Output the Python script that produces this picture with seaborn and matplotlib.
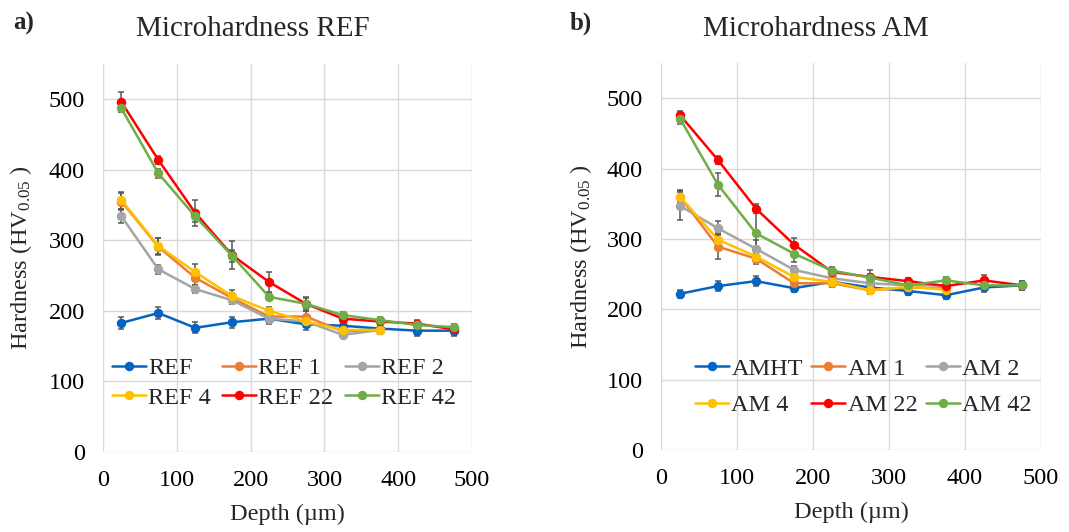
import numpy as np
import pandas as pd
import seaborn as sns
import matplotlib
matplotlib.use("Agg")
import matplotlib.pyplot as plt
from matplotlib.lines import Line2D

depth = [25, 75, 125, 175, 225, 275, 325, 375, 425, 475]

ref_names = ["REF", "REF 1", "REF 2", "REF 4", "REF 22", "REF 42"]
ref_vals = [
    [183, 197, 176, 184, 189, 181, 179, 175, 172, 172],
    [355, 291, 247, 218, 192, 192, 171, 173],
    [334, 259, 231, 215, 189, 185, 166, 173],
    [357, 292, 255, 221, 200, 185, 173, 173],
    [496, 414, 339, 279, 241, 210, 189, 185, 182, 174],
    [487, 395, 334, 278, 220, 210, 194, 187, 180, 177],
]
ref_err = [
    [8, 8, 8, 8, 7, 8, 6, 5, 8, 8],
    [12, 12, 10, 8, 6, 8, 6, 6],
    [10, 6, 6, 5, 6, 6, 5, 5],
    [12, 12, 12, 8, 6, 6, 5, 5],
    [14, 6, 18, 20, 14, 10, 6, 5, 5, 5],
    [5, 6, 8, 8, 5, 8, 5, 5, 5, 5],
]

am_names = ["AMHT", "AM 1", "AM 2", "AM 4", "AM 22", "AM 42"]
am_vals = [
    [222, 233, 240, 230, 239, 231, 226, 220, 231, 234],
    [360, 289, 272, 237, 237, 227, 231, 230],
    [347, 315, 286, 256, 244, 237, 234, 234],
    [360, 299, 275, 246, 239, 227, 232, 228],
    [476, 412, 343, 292, 253, 246, 240, 233, 241, 234],
    [471, 377, 308, 279, 255, 245, 234, 241, 234, 234],
]
am_err = [
    [6, 7, 7, 5, 5, 5, 6, 6, 6, 6],
    [8, 18, 8, 6, 5, 5, 5, 5],
    [20, 10, 12, 6, 5, 5, 5, 5],
    [10, 10, 8, 6, 5, 5, 5, 5],
    [6, 6, 6, 10, 5, 10, 5, 5, 7, 6],
    [8, 16, 30, 12, 5, 5, 5, 5, 5, 5],
]

colors = ["#0563C1", "#ED7D31", "#A5A5A5", "#FFC000", "#FF0000", "#70AD47"]

sns.set_style("white")
plt.rcParams["font.family"] = ["Liberation Serif", "DejaVu Serif"]
plt.rcParams["mathtext.fontset"] = "custom"
plt.rcParams["mathtext.rm"] = "Liberation Serif"
plt.rcParams["mathtext.it"] = "Liberation Serif:italic"

fig = plt.figure(figsize=(10.69, 5.32), dpi=100)
ax1 = fig.add_axes([103/1069, 1-452/532, 369/1069, 388/532])
ax2 = fig.add_axes([661/1069, 1-450/532, 380/1069, 387/532])

FS = 17.5


def draw(ax, names, vals, errs, leg_anchor, rowspace, colspace, ylab_x):
    rows = []
    for n, v in zip(names, vals):
        for d, h in zip(depth, v):
            rows.append({"Depth": d, "Hardness": h, "Series": n})
    df = pd.DataFrame(rows)
    pal = dict(zip(names, colors))
    for n, v, e in zip(names, vals, errs):
        ax.errorbar(depth[:len(v)], v, yerr=e, fmt="none", ecolor="#595959",
                    elinewidth=1.1, capsize=2.5, capthick=1.1, zorder=1)
    sns.lineplot(data=df, x="Depth", y="Hardness", hue="Series", palette=pal,
                 hue_order=names, marker="o", markersize=6.8, markeredgewidth=0,
                 linewidth=1.8, ax=ax, legend=False, zorder=2)
    ax.set_xlim(0, 500)
    ax.set_ylim(0, 550)
    ax.set_xticks([0, 100, 200, 300, 400, 500])
    ax.set_yticks([0, 100, 200, 300, 400, 500])
    ax.grid(True, color="#d9d9d9", linewidth=1.0)
    for s in ax.spines.values():
        s.set_visible(False)
    ax.tick_params(axis="both", length=0, labelsize=FS, pad=13, colors="black")
    ax.set_xlabel("Depth (µm)", fontsize=FS, labelpad=9)
    ax.set_ylabel(r"Hardness (HV$_{0.05}$ )", fontsize=FS)
    ax.yaxis.set_label_coords(ylab_x, 0.5)
    handles = [Line2D([0], [0], color=c, marker="o", markersize=6.8,
                      markeredgewidth=0, linewidth=1.8) for c in colors]
    order = [0, 3, 1, 4, 2, 5]
    ax.legend([handles[i] for i in order], [names[i] for i in order],
              ncol=3, loc="center left", bbox_to_anchor=leg_anchor,
              frameon=False, fontsize=FS, handlelength=1.4, handletextpad=0.1,
              columnspacing=colspace, labelspacing=rowspace, borderpad=0,
              borderaxespad=0)


draw(ax1, ref_names, ref_vals, ref_err, (0.024, 0.178), 0.3, 0.45, -0.187)
draw(ax2, am_names, am_vals, am_err, (0.089, 0.163), 0.6, 0.35, -0.176)

fig.text(253/1069, 1-29/532, "Microhardness REF", fontsize=21, ha="center", va="center")
fig.text(816/1069, 1-29/532, "Microhardness AM", fontsize=21, ha="center", va="center")
fig.text(13/1069, 1-23/532, "a)", fontsize=18, fontweight="bold", ha="left", va="center")
fig.text(570/1069, 1-23/532, "b)", fontsize=18, fontweight="bold", ha="left", va="center")

fig.savefig("out.png", dpi=100)
